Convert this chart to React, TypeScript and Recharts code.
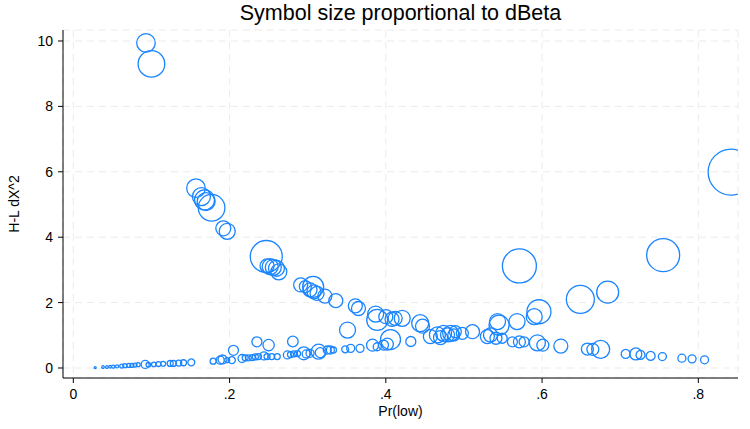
// H-L dX^2 vs Pr(low), symbol area proportional to dBeta

import React from "react";
import {
  ScatterChart,
  Scatter,
  XAxis,
  YAxis,
  ZAxis,
  CartesianGrid,
  Label,
} from "recharts";

// predicted probability
const prLow: number[] = [
  // upper branch
  0.093, 0.1, 0.157, 0.164, 0.168, 0.17, 0.177, 0.192, 0.197, 0.247,
  0.248, 0.252, 0.256, 0.26, 0.263, 0.291, 0.297, 0.307, 0.303, 0.308,
  0.312, 0.322, 0.336, 0.361, 0.365, 0.387, 0.389, 0.4, 0.408, 0.412,
  0.421, 0.444, 0.447,
  // middle + right
  0.457, 0.466, 0.47, 0.474, 0.479, 0.483, 0.487, 0.489, 0.498, 0.511,
  0.53, 0.534, 0.541, 0.545, 0.543, 0.549, 0.562, 0.568, 0.571, 0.577,
  0.59, 0.596, 0.594, 0.601, 0.571, 0.624, 0.649, 0.658, 0.665, 0.675,
  0.684, 0.707, 0.72, 0.726, 0.739, 0.754, 0.755, 0.779, 0.792, 0.808,
  0.842,
  // lower branch
  0.028, 0.038, 0.043, 0.047, 0.051, 0.056, 0.062, 0.066, 0.071, 0.075,
  0.079, 0.083, 0.092, 0.096, 0.103, 0.109, 0.115, 0.124, 0.128, 0.135,
  0.141, 0.151, 0.179, 0.188, 0.191, 0.197, 0.203, 0.205, 0.216, 0.22,
  0.224, 0.229, 0.233, 0.237, 0.235, 0.244, 0.248, 0.25, 0.254, 0.261,
  0.274, 0.278, 0.281, 0.282, 0.287, 0.295, 0.298, 0.303, 0.314, 0.316,
  0.325, 0.329, 0.333, 0.351, 0.348, 0.355, 0.367, 0.383, 0.389, 0.397,
  0.402, 0.406, 0.432,
];

// Hosmer-Lemeshow delta chi-square
const dx2: number[] = [
  9.94, 9.3, 5.5, 5.24, 5.14, 5.09, 4.9, 4.27, 4.18, 3.41,
  3.12, 3.1, 3.08, 3.05, 2.94, 2.54, 2.49, 2.48, 2.39, 2.33,
  2.28, 2.2, 2.06, 1.9, 1.82, 1.65, 1.47, 1.57, 1.49, 1.52,
  1.52, 1.37, 1.28,
  0.96, 1.01, 0.93, 1.06, 1.01, 1.06, 1.01, 1.11, 1.06, 1.11,
  0.96, 1.01, 0.91, 1.31, 1.42, 0.91, 0.8, 1.42, 0.8, 0.8,
  1.57, 1.72, 0.77, 0.7, 3.12, 0.67, 2.1, 0.58, 0.57, 0.57,
  2.32, 0.43, 0.43, 0.4, 0.37, 0.35, 3.45, 0.3, 0.28, 0.25,
  5.99,
  0.01, 0.03, 0.03, 0.04, 0.04, 0.05, 0.06, 0.07, 0.08, 0.08,
  0.09, 0.1, 0.11, 0.1, 0.11, 0.12, 0.13, 0.14, 0.14, 0.15,
  0.16, 0.17, 0.21, 0.24, 0.26, 0.24, 0.24, 0.54, 0.29, 0.31,
  0.31, 0.32, 0.34, 0.35, 0.8, 0.37, 0.35, 0.7, 0.35, 0.35,
  0.4, 0.41, 0.81, 0.43, 0.44, 0.45, 0.43, 0.45, 0.5, 0.47,
  0.55, 0.55, 0.55, 1.16, 0.57, 0.6, 0.6, 0.7, 0.65, 0.7,
  0.73, 0.87, 0.81,
];

// Pregibon dBeta (marker weight)
const dBeta: number[] = [
  0.086, 0.177, 0.086, 0.081, 0.1, 0.081, 0.177, 0.056, 0.064, 0.256,
  0.049, 0.064, 0.064, 0.064, 0.064, 0.049, 0.036, 0.11, 0.049, 0.049,
  0.049, 0.049, 0.049, 0.049, 0.049, 0.064, 0.11, 0.049, 0.049, 0.049,
  0.064, 0.072, 0.049,
  0.049, 0.064, 0.049, 0.064, 0.049, 0.064, 0.036, 0.036, 0.036, 0.049,
  0.049, 0.049, 0.036, 0.1, 0.064, 0.025, 0.025, 0.064, 0.036, 0.025,
  0.064, 0.144, 0.064, 0.036, 0.289, 0.049, 0.196, 0.036, 0.036, 0.081,
  0.121, 0.02, 0.036, 0.02, 0.02, 0.016, 0.272, 0.016, 0.016, 0.016,
  0.529,
  0.001, 0.0017, 0.0017, 0.0017, 0.0023, 0.0023, 0.004, 0.004, 0.004, 0.004,
  0.004, 0.004, 0.016, 0.005, 0.005, 0.006, 0.006, 0.009, 0.009, 0.009,
  0.009, 0.012, 0.009, 0.016, 0.02, 0.006, 0.012, 0.025, 0.016, 0.009,
  0.009, 0.009, 0.009, 0.009, 0.025, 0.016, 0.009, 0.032, 0.009, 0.009,
  0.016, 0.009, 0.028, 0.009, 0.009, 0.042, 0.016, 0.016, 0.056, 0.025,
  0.016, 0.016, 0.009, 0.064, 0.012, 0.016, 0.016, 0.036, 0.016, 0.025,
  0.036, 0.1, 0.025,
];

const xTicks: number[] = [0, 0.2, 0.4, 0.6, 0.8];
const yTicks: number[] = [0, 2, 4, 6, 8, 10];

const title = "Symbol size proportional to dBeta";
const xTitle = "Pr(low)";
const yTitle = "H-L dX^2";

interface Point {
  x: number;
  y: number;
  z: number;
}

const FONT = '"Liberation Sans", Arial, sans-serif';
const BLUE = "#1a85ff";

const points: Point[] = prLow.map((x, i) => ({ x, y: dx2[i], z: dBeta[i] }));

const fmtX = (v: number): string => (v === 0 ? "0" : v.toFixed(1).replace(/^0/, ""));

const App: React.FC = () => {
  return (
    <div style={{ position: "absolute", left: 0, top: 0, width: 750, height: 429, background: "#fff" }}>
      <div
        style={{
          position: "absolute",
          left: 63,
          top: 1,
          width: 675,
          textAlign: "center",
          fontFamily: FONT,
          fontSize: 21.5,
          color: "#000",
          lineHeight: "normal",
        }}
      >
        {title}
      </div>
      <ScatterChart width={750} height={429} margin={{ top: 30, right: 12, bottom: 0, left: 0 }}>
        <CartesianGrid stroke="#ebebeb" strokeDasharray="7 5" />
        <XAxis
          dataKey="x"
          type="number"
          domain={[-0.0132, 0.8508]}
          ticks={xTicks}
          tickFormatter={fmtX}
          height={51}
          tickSize={5}
          tickMargin={6}
          stroke="#000"
          tick={{ fill: "#000", fontSize: 14, fontFamily: FONT }}
          allowDataOverflow
        >
          <Label
            content={(props: any) => {
              const vb = props.viewBox;
              return (
                <text
                  x={vb.x + vb.width / 2}
                  y={vb.y + 38}
                  textAnchor="middle"
                  fontSize={14}
                  fontFamily={FONT}
                  fill="#000"
                >
                  {xTitle}
                </text>
              );
            }}
          />
        </XAxis>
        <YAxis
          dataKey="y"
          type="number"
          domain={[-0.306, 10.336]}
          ticks={yTicks}
          width={63}
          tickSize={5}
          tickMargin={5}
          stroke="#000"
          tick={{ fill: "#000", fontSize: 14, fontFamily: FONT }}
          allowDataOverflow
        >
          <Label
            content={(props: any) => {
              const vb = props.viewBox;
              const cx = 18.5;
              const cy = vb.y + vb.height / 2;
              return (
                <text
                  x={cx}
                  y={cy}
                  transform={`rotate(-90, ${cx}, ${cy})`}
                  textAnchor="middle"
                  fontSize={14}
                  fontFamily={FONT}
                  fill="#000"
                >
                  {yTitle}
                </text>
              );
            }}
          />
        </YAxis>
        <ZAxis dataKey="z" type="number" domain={[0, 0.529]} range={[0, 1662]} />
        <Scatter
          data={points}
          fill="none"
          stroke={BLUE}
          strokeWidth={1.3}
          isAnimationActive={false}
        />
      </ScatterChart>
    </div>
  );
};

export default App;
